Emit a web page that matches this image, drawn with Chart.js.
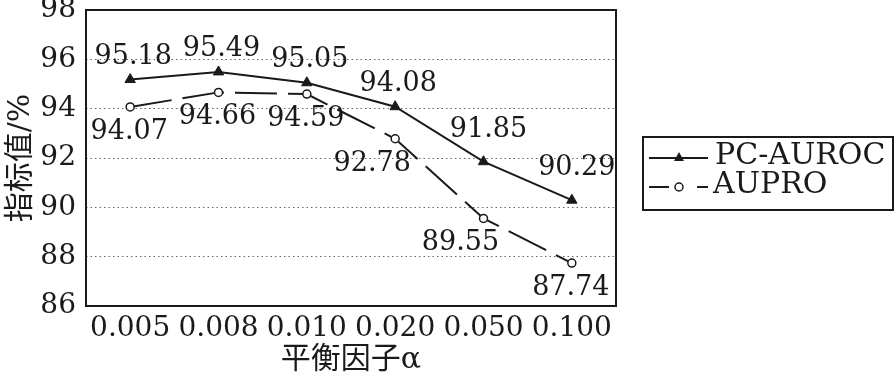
<!DOCTYPE html>
<html>
<head>
<meta charset="utf-8">
<script src="https://cdn.jsdelivr.net/npm/chart.js@4.4.1/dist/chart.umd.min.js"></script>
<style>
  html, body { margin: 0; background: #fff; }
  #wrap { width: 896px; height: 380px; }
</style>
</head>
<body>
<div id="wrap"><canvas id="chart"></canvas></div>
<script>
// Data
const categories = ['0.005', '0.008', '0.010', '0.020', '0.050', '0.100'];
const pcAuroc = [95.18, 95.49, 95.05, 94.08, 91.85, 90.29];
const aupro = [94.07, 94.66, 94.59, 92.78, 89.55, 87.74];
const yTicks = [86, 88, 90, 92, 94, 96, 98];
const seriesNames = ['PC-AUROC', 'AUPRO'];
const yTitle = '指标值/%';
const xTitle = '平衡因子α';

const SERIF = '"DejaVu Serif", "Noto Sans CJK SC", serif';
const INK = '#1a1a1a';
const STEEP = 1.5; // drop (in %) that counts as a steep segment

/**
 * Value labels above / below each point.
 * Labels get nudged away from steep line segments so they don't collide.
 */
const pointLabels = {
    id: 'pointLabels',
    afterDatasetsDraw(chart) {
        const ctx = chart.ctx;
        ctx.save();
        ctx.font = '27px ' + SERIF;
        ctx.fillStyle = INK;
        ctx.textAlign = 'center';
        ctx.textBaseline = 'middle';
        chart.data.datasets.forEach((ds, i) => {
            const meta = chart.getDatasetMeta(i);
            const d = ds.data;
            meta.data.forEach((pt, j) => {
                let dx = ds.labelDx, dy = ds.labelDy;
                const dropIn = j > 0 ? d[j - 1] - d[j] : 0;
                const dropOut = j < d.length - 1 ? d[j] - d[j + 1] : 0;
                if (dy < 0 && dropIn > STEEP) {
                    dy -= 9;
                    dx += 2;
                }
                if (dy > 0 && dropIn > STEEP && dropOut > STEEP) {
                    dx -= 22;
                }
                ctx.fillText(d[j].toFixed(2), pt.x + dx, pt.y + dy);
            });
        });
        ctx.restore();
    }
};

/**
 * Frame around plot area + boxed legend on the right
 */
const frameAndLegend = {
    id: 'frameAndLegend',
    afterDraw(chart) {
        const ctx = chart.ctx;
        const a = chart.chartArea;
        ctx.save();
        ctx.strokeStyle = INK;
        ctx.lineWidth = 2;
        ctx.strokeRect(a.left, a.top, a.right - a.left, a.bottom - a.top);

        // legend box
        const x0 = a.right + 27, y0 = 137, w = 250, h = 73;
        ctx.strokeRect(x0, y0, w, h);

        const rows = [y0 + 21, y0 + 50];
        const ds = chart.data.datasets;
        ctx.font = '30px ' + SERIF;
        ctx.fillStyle = INK;
        ctx.textAlign = 'left';
        ctx.textBaseline = 'middle';

        // PC-AUROC: solid line + filled triangle
        ctx.lineWidth = 2;
        ctx.setLineDash([]);
        ctx.beginPath();
        ctx.moveTo(x0 + 6, rows[0]);
        ctx.lineTo(x0 + 65, rows[0]);
        ctx.stroke();
        ctx.beginPath();
        ctx.moveTo(x0 + 36, rows[0] - 6);
        ctx.lineTo(x0 + 41, rows[0] + 3);
        ctx.lineTo(x0 + 31, rows[0] + 3);
        ctx.closePath();
        ctx.fill();
        ctx.fillText(ds[0].label, x0 + 72, rows[0] - 2);

        // AUPRO: dashed line + hollow circle
        ctx.setLineDash([20, 28]);
        ctx.beginPath();
        ctx.moveTo(x0 + 6, rows[1]);
        ctx.lineTo(x0 + 65, rows[1]);
        ctx.stroke();
        ctx.setLineDash([]);
        ctx.lineWidth = 1.5;
        ctx.beginPath();
        ctx.arc(x0 + 36, rows[1], 4, 0, Math.PI * 2);
        ctx.fillStyle = '#fff';
        ctx.fill();
        ctx.stroke();
        ctx.fillStyle = INK;
        ctx.fillText(ds[1].label, x0 + 70, rows[1] - 2);
        ctx.restore();
    }
};

const ctx = document.getElementById('chart').getContext('2d');

new Chart(ctx, {
    type: 'line',
    data: {
        labels: categories,
        datasets: [
            {
                label: seriesNames[0],
                data: pcAuroc,
                borderColor: INK,
                backgroundColor: INK,
                borderWidth: 2,
                pointStyle: 'triangle',
                pointRadius: 6,
                pointBorderWidth: 1,
                tension: 0,
                labelDx: 3,
                labelDy: -23
            },
            {
                label: seriesNames[1],
                data: aupro,
                borderColor: INK,
                backgroundColor: '#fff',
                borderWidth: 2,
                borderDash: [42, 11],
                pointStyle: 'circle',
                pointRadius: 4,
                pointBorderWidth: 1.5,
                tension: 0,
                labelDx: -1,
                labelDy: 25
            }
        ]
    },
    options: {
        responsive: true,
        maintainAspectRatio: false,
        animation: false,
        devicePixelRatio: 1,
        layout: {
            padding: { top: 10, right: 280, bottom: 0, left: 0 }
        },
        plugins: {
            legend: { display: false },
            tooltip: { enabled: false },
            title: { display: false }
        },
        scales: {
            x: {
                offset: true,
                grid: { display: false, drawTicks: false },
                border: { display: false },
                ticks: {
                    color: INK,
                    padding: 6,
                    maxRotation: 0,
                    autoSkip: false,
                    font: { family: SERIF, size: 28 }
                },
                title: {
                    display: true,
                    text: xTitle,
                    color: INK,
                    padding: { top: 0, bottom: 2 },
                    font: { family: SERIF, size: 30 }
                },
                afterFit(s) {
                    s.height = 74;
                    s.paddingLeft = 0;
                    s.paddingRight = 0;
                }
            },
            y: {
                min: 86,
                max: 98,
                afterBuildTicks(s) {
                    s.ticks = yTicks.map(v => ({ value: v }));
                },
                grid: {
                    drawTicks: false,
                    lineWidth: 1,
                    color: c => (c.tick && (c.tick.value === 86 || c.tick.value === 98)) ? 'rgba(0,0,0,0)' : '#666'
                },
                border: { display: false, dash: [1.5, 3] },
                ticks: {
                    color: INK,
                    padding: 10,
                    font: { family: SERIF, size: 28 }
                },
                title: {
                    display: true,
                    text: yTitle,
                    color: INK,
                    padding: { top: 3, bottom: 0 },
                    font: { family: SERIF, size: 30 }
                },
                afterFit(s) {
                    s.width = 86;
                    s.paddingTop = 0;
                    s.paddingBottom = 0;
                }
            }
        }
    },
    plugins: [pointLabels, frameAndLegend]
});
</script>
</body>
</html>
